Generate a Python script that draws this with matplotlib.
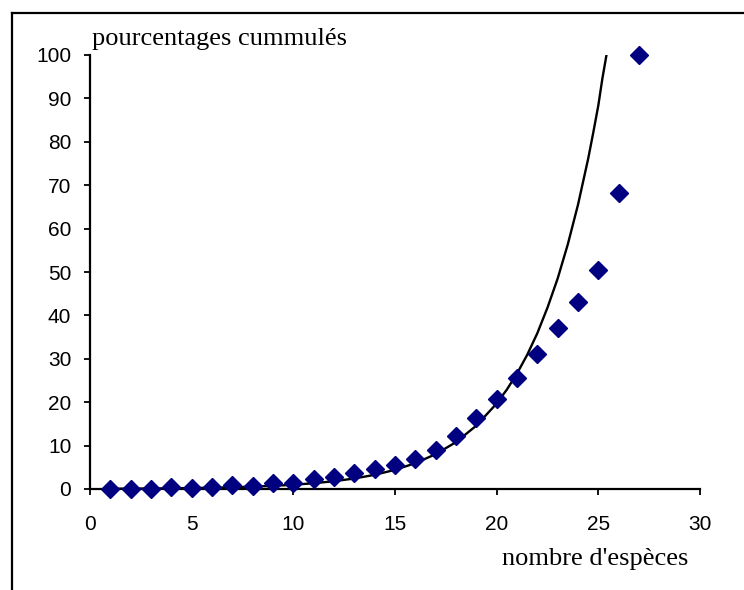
import matplotlib
matplotlib.use("Agg")
import matplotlib.pyplot as plt
from matplotlib.lines import Line2D

# data: observed cumulative percentages
species = [1, 2, 3, 4, 5, 6, 7, 8, 9, 10, 11, 12, 13, 14, 15, 16, 17, 18, 19, 20,
           21, 22, 23, 24, 25, 26, 27]
cum_pct = [0.0, 0.0, 0.0, 0.4, 0.3, 0.4, 0.85, 0.7, 1.3, 1.3, 2.3, 2.8, 3.6, 4.6, 5.5,
           6.8, 9.1, 12.3, 16.4, 20.7, 25.6, 31.2, 37.2, 43.2, 50.5, 68.2, 100.0]

# data: fitted curve
curve_x = [1, 2, 3, 4, 5, 6, 7, 8, 9, 10, 11, 12, 13, 14, 15, 16, 17, 18, 19, 20,
           20.5, 21, 21.5, 22, 22.5, 23, 23.5, 24, 24.5, 24.75, 25, 25.2, 25.4]
curve_y = [0.07, 0.09, 0.12, 0.16, 0.22, 0.30, 0.40, 0.54, 0.73, 0.98, 1.33, 1.79,
           2.42, 3.27, 4.41, 5.95, 8.03, 10.8, 14.6, 19.7, 22.9, 26.6, 30.9, 35.9,
           41.8, 48.5, 56.4, 65.5, 76.1, 82.1, 88.4, 94.6, 100.0]

x_ticks = [0, 5, 10, 15, 20, 25, 30]
y_ticks = [0, 10, 20, 30, 40, 50, 60, 70, 80, 90, 100]

W, H = 744, 590
fig = plt.figure(figsize=(W / 100, H / 100), dpi=100)
ax = fig.add_axes([90 / W, 1 - 489 / H, (700 - 90) / W, (489 - 55) / H])

ax.plot(curve_x, curve_y, color="black", lw=1.7, zorder=2)
ax.plot(species, cum_pct, linestyle="none", marker="D", ms=9.0,
        color="#000080", mec="#000080", zorder=3, clip_on=False)

ax.set_xlim(0, 30)
ax.set_ylim(0, 100)
ax.set_xticks(x_ticks)
ax.set_yticks(y_ticks)
for s in ["top", "right"]:
    ax.spines[s].set_visible(False)
for s in ["left", "bottom"]:
    ax.spines[s].set_linewidth(1.6)
    ax.spines[s].set_color("black")
ax.tick_params(axis="both", direction="out", length=4.5, width=1.3,
               labelsize=15, colors="black")
ax.tick_params(axis="y", pad=9)
ax.tick_params(axis="x", pad=14)
for lab in ax.get_xticklabels() + ax.get_yticklabels():
    lab.set_family("Liberation Sans")

fig.text(92 / W, 1 - 45 / H, "pourcentages cummulés", family="Liberation Serif",
         fontsize=19, ha="left", va="baseline")
fig.text(595 / W, 1 - 565 / H, "nombre d'espèces", family="Liberation Serif",
         fontsize=19, ha="center", va="baseline")

# outer frame (top and left edges visible)
fig.add_artist(Line2D([11.5 / W, 1.0], [1 - 12.5 / H, 1 - 12.5 / H],
                      transform=fig.transFigure, color="black", lw=1.6))
fig.add_artist(Line2D([11.5 / W, 11.5 / W], [0.0, 1 - 12.5 / H],
                      transform=fig.transFigure, color="black", lw=1.6))

fig.savefig("out.png", dpi=100)
